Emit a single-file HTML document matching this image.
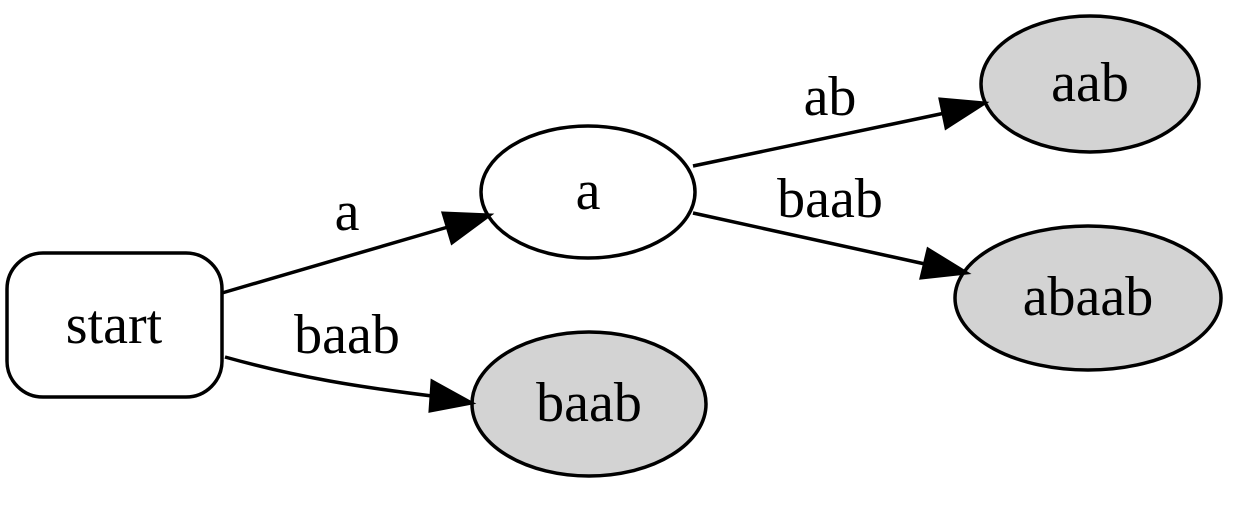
<!DOCTYPE html>
<html><head><meta charset="utf-8"><style>html,body{margin:0;padding:0;background:#fff;}svg{display:block}</style></head>
<body>
<svg width="1251" height="527" viewBox="0 0 1251 527" xmlns="http://www.w3.org/2000/svg" font-family="Liberation Serif, serif" font-size="56">
<rect width="1251" height="527" fill="#fff"/>
<g stroke="#000" stroke-width="3.5" fill="none">
<rect x="7" y="253" width="215" height="144" rx="36" ry="36" fill="#fff"/>
<ellipse cx="588" cy="192" rx="107" ry="66" fill="#fff"/>
<ellipse cx="1090" cy="84" rx="109" ry="68" fill="#d3d3d3"/>
<ellipse cx="1088" cy="298" rx="133" ry="72" fill="#d3d3d3"/>
<ellipse cx="589" cy="404" rx="117" ry="72" fill="#d3d3d3"/>
<path d="M222,293 L448,227"/>
<path d="M225,357 C300,378 360,387 432,396"/>
<path d="M693,166 L945,113"/>
<path d="M693,213 L925,264"/>
</g>
<g fill="#000" stroke="#000" stroke-width="3">
<polygon points="443,213 490,215 452,243"/>
<polygon points="432,381 472,403 430,411"/>
<polygon points="940,99 985,103 946,128"/>
<polygon points="928,249 967,273 921,278"/>
</g>
<g text-anchor="middle" fill="#000">
<text x="114" y="343">start</text>
<text x="588" y="209">a</text>
<text x="1090" y="101">aab</text>
<text x="1088" y="315">abaab</text>
<text x="589" y="421">baab</text>
<text x="347" y="230">a</text>
<text x="347" y="353">baab</text>
<text x="830" y="115">ab</text>
<text x="830" y="217">baab</text>
</g>
</svg>
</body></html>
